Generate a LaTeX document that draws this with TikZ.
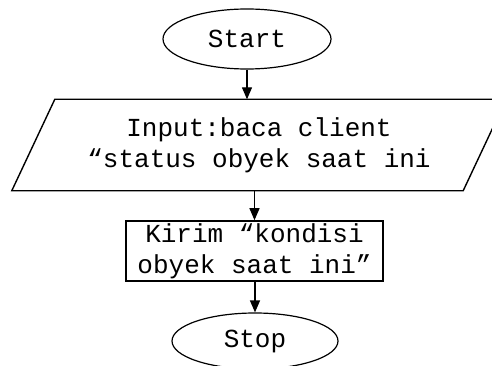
\documentclass[tikz,border=0pt]{standalone}
\usepackage{fontspec}
\setmonofont{Liberation Mono}
\usetikzlibrary{arrows.meta,shapes.geometric}
\begin{document}
\begin{tikzpicture}[x=1pt,y=1pt,
  every node/.style={font=\ttfamily\fontsize{26}{31}\selectfont, align=center, inner sep=0pt},
  outline/.style={line width=1.4pt, line join=miter},
  term/.style={ellipse, draw, line width=1.2pt, minimum width=168pt, minimum height=60pt},
  procbox/.style={rectangle, draw, line width=1.6pt, minimum width=257pt, minimum height=60pt},
  flow/.style={line width=1.3pt, -{Triangle[width=10pt,length=12pt]}}]
\useasboundingbox (0,0) rectangle (492,-366);
\clip (0,0) rectangle (492,-366);

% terminal: start
\node[term] (start) at (247,-39) {Start};

% input/output block (parallelogram drawn around a frame node)
\node[minimum width=494pt, minimum height=91pt] (io) at (259,-145)
  {Input:baca client\\“status obyek saat ini};
\draw[outline] ([xshift=43pt]io.north west) -- (io.north east)
  -- ([xshift=-43pt]io.south east) -- (io.south west) -- cycle;

% process block
\node[procbox] (kirim) at (254.5,-251) {Kirim “kondisi\\obyek saat ini”};

% terminal: stop
\node[term, minimum width=166pt, minimum height=56pt] (stop) at (255,-341) {Stop};

% connectors
\draw[flow] (start) -- (start |- io.north);
\draw[flow] (io.south -| kirim.north) -- (kirim);
\draw[flow] (kirim.south -| stop.north) -- (stop);
\end{tikzpicture}
\end{document}
